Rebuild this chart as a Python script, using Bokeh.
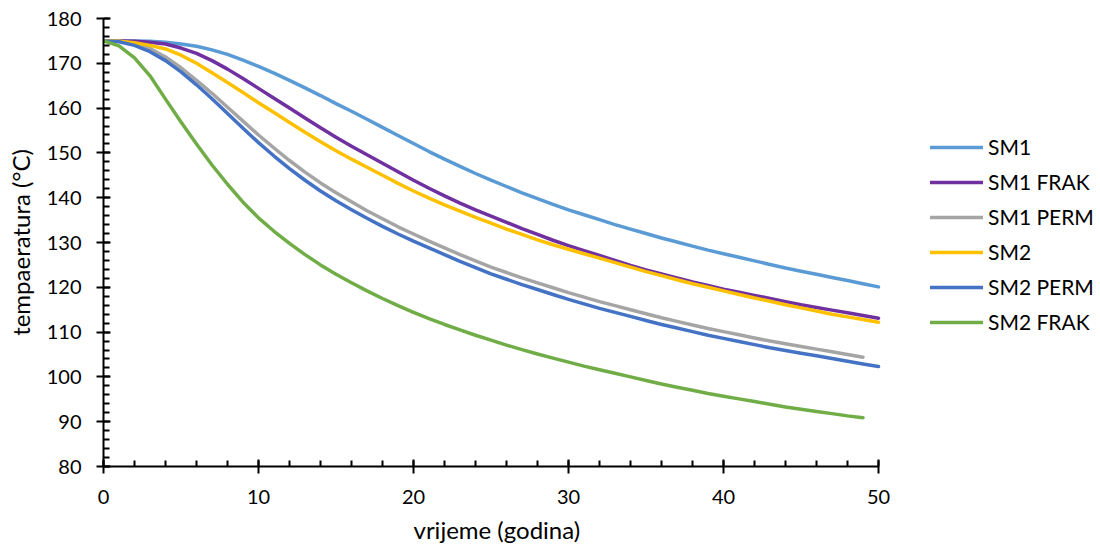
from bokeh.plotting import figure
from bokeh.models import Range1d, SingleIntervalTicker, Legend, LegendItem, Title
from bokeh.embed import file_html
from bokeh.resources import INLINE

years = list(range(51))
sm1 = [175.0,175.0,175.0,174.9,174.7,174.3,173.8,173.0,172.0,170.7,169.3,167.8,166.2,164.5,162.8,161.0,159.3,157.5,155.7,153.9,
       152.1,150.3,148.6,147.0,145.4,143.9,142.5,141.1,139.8,138.5,137.3,136.2,135.1,134.0,133.0,132.0,131.0,130.1,129.2,128.3,
       127.5,126.7,125.9,125.1,124.3,123.6,122.9,122.2,121.5,120.8,120.1]
sm1_frak = [175.0,175.0,174.9,174.7,174.3,173.4,172.2,170.6,168.7,166.6,164.4,162.2,160.0,157.8,155.6,153.5,151.5,149.6,147.7,145.8,
            143.9,142.1,140.4,138.8,137.3,135.9,134.5,133.1,131.8,130.5,129.3,128.2,127.1,126.0,124.9,123.9,123.0,122.1,121.2,120.4,
            119.6,118.9,118.2,117.5,116.8,116.1,115.5,114.9,114.3,113.7,113.1]
sm1_perm = [175.0,174.9,174.4,173.3,171.4,169.0,166.2,163.3,160.2,157.1,154.0,151.1,148.3,145.7,143.3,141.1,139.1,137.1,135.3,133.5,
            131.9,130.3,128.8,127.3,125.9,124.5,123.3,122.1,121.0,119.9,118.8,117.8,116.8,115.9,115.0,114.1,113.2,112.4,111.6,110.8,
            110.1,109.4,108.7,108.0,107.4,106.8,106.2,105.6,105.0,104.4]
sm2 = [175.0,174.9,174.6,174.0,173.2,171.8,170.0,167.9,165.7,163.5,161.2,159.0,156.8,154.6,152.5,150.5,148.6,146.8,145.0,143.2,
       141.5,139.9,138.4,137.0,135.6,134.3,133.0,131.8,130.6,129.5,128.5,127.5,126.5,125.5,124.5,123.5,122.6,121.7,120.8,120.0,
       119.2,118.4,117.6,116.9,116.1,115.4,114.7,114.0,113.4,112.8,112.2]
sm2_perm = [175.0,174.8,174.0,172.6,170.6,168.1,165.2,162.1,158.8,155.5,152.3,149.3,146.5,143.9,141.5,139.3,137.3,135.4,133.6,131.9,
            130.3,128.8,127.3,125.8,124.4,123.0,121.8,120.6,119.5,118.4,117.3,116.3,115.3,114.4,113.5,112.6,111.7,110.9,110.1,109.3,
            108.6,107.9,107.2,106.5,105.9,105.3,104.7,104.1,103.5,102.9,102.3]
sm2_frak = [175.0,173.9,171.2,167.2,162.0,156.9,152.0,147.3,143.0,139.0,135.5,132.5,129.8,127.3,125.0,122.9,121.0,119.2,117.5,115.9,
            114.4,113.0,111.7,110.5,109.3,108.2,107.1,106.1,105.1,104.2,103.3,102.4,101.6,100.8,100.0,99.2,98.4,97.7,97.0,96.3,
            95.7,95.1,94.5,93.9,93.3,92.8,92.3,91.8,91.3,90.9]

series = [
    ("SM1", sm1, "#5B9BD5"),
    ("SM1 FRAK", sm1_frak, "#7030A0"),
    ("SM1 PERM", sm1_perm, "#A5A5A5"),
    ("SM2", sm2, "#FFC000"),
    ("SM2 PERM", sm2_perm, "#4472C4"),
    ("SM2 FRAK", sm2_frak, "#70AD47"),
]

FONT = "Lato"

W, H = 1098, 550
LEFT, TOP, BOTTOM = 103, 18, 84
AXIS_W = 775  # pixel length of the 0..50 axis
x_end = 50 * (W - LEFT) / AXIS_W

p = figure(width=W, height=H, output_backend="svg", toolbar_location=None,
           x_range=Range1d(0, x_end), y_range=Range1d(80, 180),
           min_border_left=LEFT, min_border_right=0, min_border_top=TOP, min_border_bottom=BOTTOM)
p.outline_line_color = None
p.xgrid.grid_line_color = None
p.ygrid.grid_line_color = None
p.background_fill_color = "white"
p.border_fill_color = "white"

items = []
for name, vals, color in series:
    r = p.line(years[:len(vals)], vals, line_color=color, line_width=3.5, line_cap="round", line_join="round")
    items.append(LegendItem(label=name, renderers=[r]))

p.xaxis.ticker = SingleIntervalTicker(interval=10, num_minor_ticks=5)
p.yaxis.ticker = SingleIntervalTicker(interval=10, num_minor_ticks=5)
p.xaxis.bounds = (0, 50)

for ax in (p.xaxis, p.yaxis):
    ax.axis_line_color = "black"
    ax.axis_line_width = 2
    ax.major_tick_line_color = "black"
    ax.major_tick_line_width = 2
    ax.minor_tick_line_color = "black"
    ax.minor_tick_line_width = 2
    ax.major_tick_in = 7
    ax.major_tick_out = 7
    ax.minor_tick_in = 6
    ax.minor_tick_out = 0
    ax.major_label_text_font = FONT
    ax.major_label_text_font_size = "20px"
    ax.major_label_text_color = "black"
    ax.axis_label_text_font = FONT
    ax.axis_label_text_font_size = "24px"
    ax.axis_label_text_font_style = "normal"
    ax.axis_label_text_color = "black"

p.yaxis.axis_label = "tempaeratura (°C)"
p.xaxis.major_label_standoff = 16
p.yaxis.major_label_standoff = 15
p.yaxis.axis_label_standoff = 9

# x-axis title, centred under the 0..50 axis
xtitle = Title(text="vrijeme (godina)", align="left", offset=310, standoff=13,
               text_font=FONT, text_font_size="24px", text_font_style="normal", text_color="black")
p.add_layout(xtitle, "below")

legend = Legend(items=items, location=(827, 132), orientation="vertical",
                label_text_font=FONT, label_text_font_size="21px", label_text_color="black",
                glyph_width=53, glyph_height=20, label_height=20, spacing=10, label_standoff=5,
                padding=0, margin=0, border_line_color=None, background_fill_alpha=0)
p.add_layout(legend, "center")

open("out.html", "w").write(file_html(p, INLINE))
